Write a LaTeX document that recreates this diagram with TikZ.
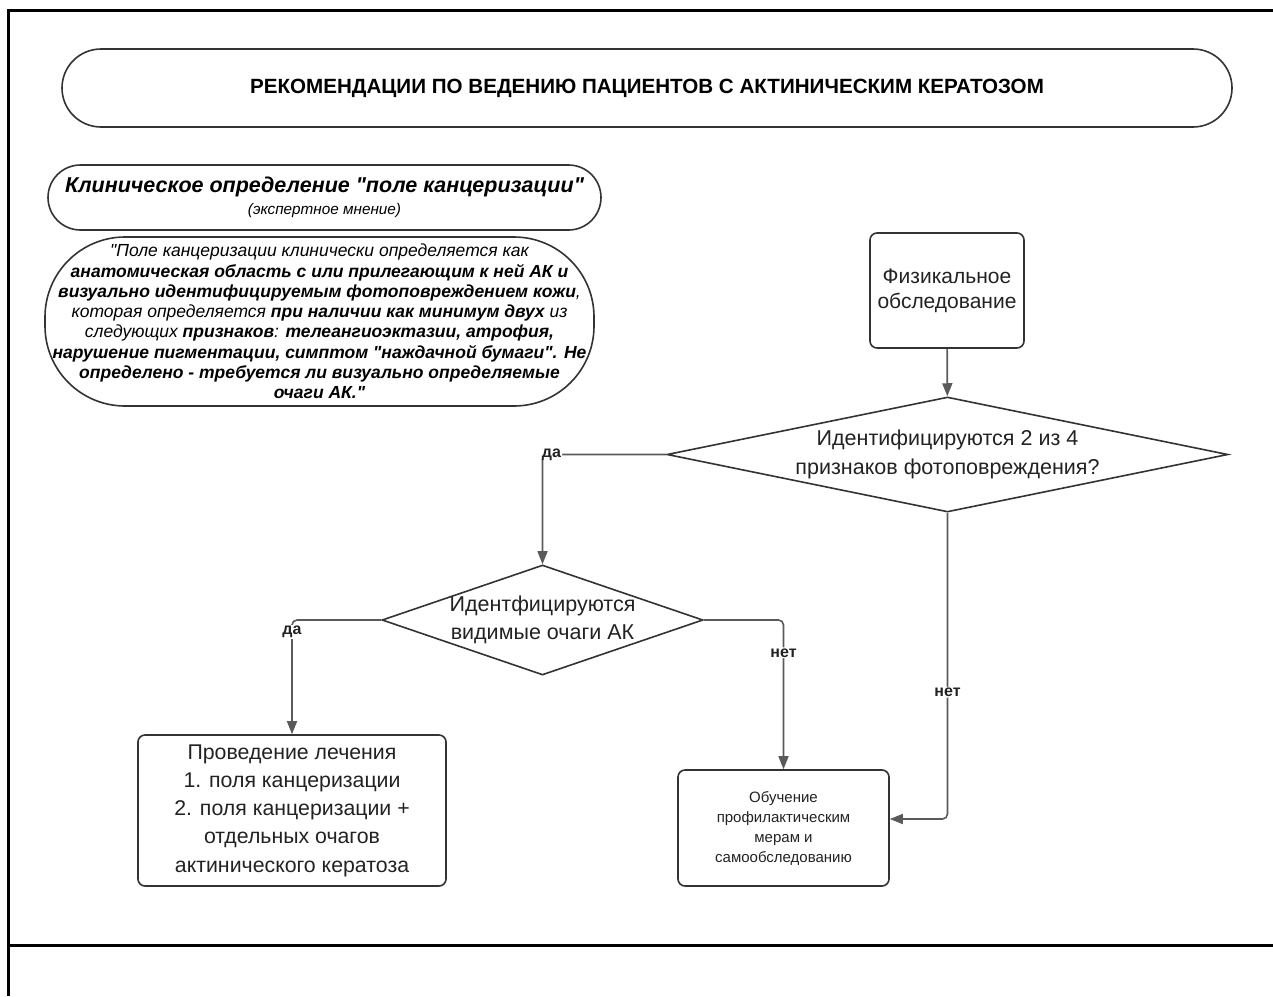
\documentclass[tikz,border=0pt]{standalone}
\usepackage{fontspec}
\setmainfont{Liberation Sans}[Ligatures=TeXOff]
\usetikzlibrary{arrows.meta, positioning, shapes.geometric, shapes.misc}
\definecolor{ChartLine}{RGB}{51, 51, 51}
\definecolor{ChartArrow}{RGB}{90, 90, 90}
\definecolor{ChartText}{RGB}{34, 34, 34}

\begin{document}
\begin{tikzpicture}[x=1pt, y=-1pt,
    shapeline/.style={draw=ChartLine, line width=1.6pt},
    pill/.style={shapeline, rounded rectangle, inner sep=0pt, align=center},
    procbox/.style={shapeline, rectangle, rounded corners=7pt, inner sep=0pt, align=center, text=ChartText},
    decision/.style={shapeline, diamond, inner sep=0pt, align=center, text=ChartText},
    flow/.style={draw=ChartArrow, line width=1.6pt, rounded corners=5pt, -{Triangle[length=13pt, width=10pt]}},
    answer/.style={fill=white, inner sep=1pt, text=ChartText, font=\fontsize{16}{18}\selectfont\bfseries}]

    % Page size (pixels of the reference)
    \useasboundingbox (0,0) rectangle (1273,996);

    % Table frame
    \draw[line width=3pt] (1273,10) -- (8,10) -- (8,996);
    \draw[line width=3pt] (8,945) -- (1273,945);

    % Title
    \node[pill, minimum width=1170, minimum height=78, font=\fontsize{20.6}{24}\selectfont\bfseries] (title) at (647,88)
        {РЕКОМЕНДАЦИИ ПО ВЕДЕНИЮ ПАЦИЕНТОВ С АКТИНИЧЕСКИМ КЕРАТОЗОМ};

    % Definition of the field (left column)
    \node[pill, minimum width=553, minimum height=65] (fieldhead) at (324.5,197.5)
        {{\fontsize{21.5}{25}\selectfont\bfseries\itshape Клиническое определение "поле канцеризации"}\\[5pt]
         {\fontsize{15.3}{17}\selectfont\itshape (экспертное мнение)}};
    \node[shapeline, rectangle, rounded corners=80pt, inner sep=0pt, align=center,
          minimum width=549, minimum height=169, font=\fontsize{17.5}{20.3}\selectfont\itshape] (fielddef) at (319.5,321.5)
        {"Поле канцеризации клинически определяется как\\
         \textbf{анатомическая область с или прилегающим к ней АК и}\\
         \textbf{визуально идентифицируемым фотоповреждением кожи},\\
         которая определяется \textbf{при наличии как минимум двух} из\\
         следующих \textbf{признаков}: \textbf{телеангиоэктазии, атрофия,}\\
         \textbf{нарушение пигментации, симптом "наждачной бумаги". Не}\\
         \textbf{определено - требуется ли визуально определяемые}\\
         \textbf{очаги АК."}};

    % Flow chart
    \node[procbox, minimum width=154, minimum height=115, font=\fontsize{21}{25}\selectfont] (exam) at (947,290.5)
        {Физикальное\\обследование};
    \node[decision, minimum width=561, minimum height=115, aspect=4.88, inner xsep=-30pt,
          font=\fontsize{21.5}{29}\selectfont] (signs) at (947.5,454.5)
        {Идентифицируются 2 из 4\\признаков фотоповреждения?};
    \node[decision, minimum width=321, minimum height=110, aspect=2.9, inner xsep=-40pt,
          font=\fontsize{21.5}{28}\selectfont] (lesions) at (542.5,620)
        {Идентфицируются\\видимые очаги АК};
    \node[procbox, minimum width=308, minimum height=151, font=\fontsize{21.3}{28.2}\selectfont] (treat) at (292,810.5)
        {Проведение лечения\\1. поля канцеризации\\2. поля канцеризации +\\отдельных очагов\\актинического кератоза};
    \node[procbox, minimum width=211, minimum height=116, font=\fontsize{15}{20}\selectfont] (educate) at (783.5,828)
        {Обучение\\профилактическим\\мерам и\\самообследованию};

    % Connectors
    \coordinate (eduIn) at ([yshift=9pt]educate.east);
    \draw[flow] (exam) -- (signs);
    \draw[flow] (signs.west) -| node[answer, pos=0.5, xshift=9pt] (yes1) {да} (lesions.north);
    \draw[flow] (lesions.west) -| node[answer, pos=0.5, yshift=-12pt] (yes2) {да} (treat.north);
    \draw[flow] (lesions.east) -| node[answer, pos=0.61] (no2) {нет} (educate.north);
    \draw[flow] (signs.south) |- node[answer, pos=0.293] (no1) {нет} (eduIn);

\end{tikzpicture}
\end{document}
